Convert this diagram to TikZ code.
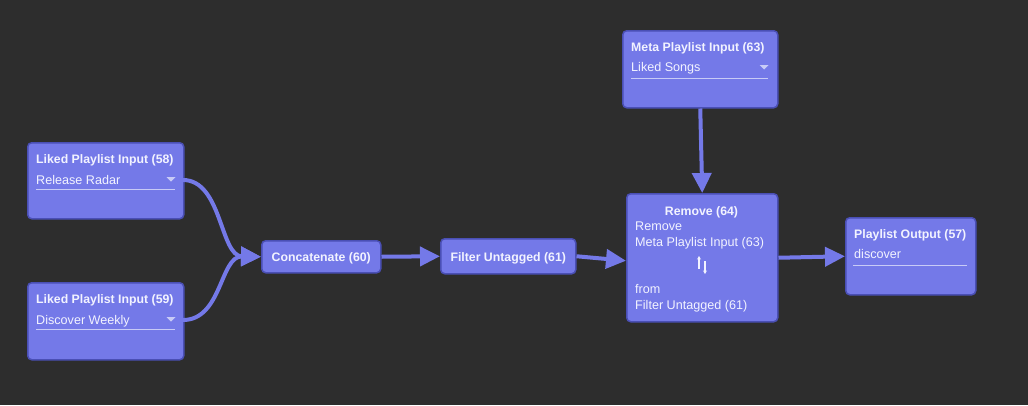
\documentclass[tikz,border=0pt]{standalone}
\usepackage{fontspec}
\setmainfont{Liberation Sans}
\usetikzlibrary{arrows.meta,calc}
\definecolor{bg}{HTML}{2D2D2D}
\definecolor{nodefill}{HTML}{7479E8}
\definecolor{nodeedge}{HTML}{4A4FB5}
\definecolor{wire}{HTML}{7479E8}
\definecolor{txt}{HTML}{F2F3FF}
\definecolor{rulec}{HTML}{C8CBF6}
\begin{document}
\begin{tikzpicture}[x=1pt,y=-1pt,
  box/.style={draw=nodeedge, line width=1.5pt, fill=nodefill, rounded corners=4pt, anchor=north west, inner sep=0pt},
  ttl/.style={text=txt, font=\fontsize{12.3}{14}\selectfont\bfseries, inner sep=0pt},
  body/.style={text=txt, font=\fontsize{12.6}{14}\selectfont, inner sep=0pt, anchor=base west},
  wirel/.style={draw=wire, line width=4pt, -{Triangle[length=20pt,width=19pt]}},
  sel/.style={draw=rulec, line width=0.8pt},
  tri/.style={fill=rulec, draw=none}
]
\fill[bg] (0,0) rectangle (1028,405);
\useasboundingbox (0,0) rectangle (1028,405);

% Liked Playlist Input (58)
\node[box, minimum width=156pt, minimum height=76pt] (l58) at (27,142) {};
\node[ttl, anchor=base west] (l58t) at (36,163) {Liked Playlist Input (58)};
\node[body] (l58v) at (36,184) {Release Radar};
\draw[sel] (36,189) -- (175,189);
\fill[tri] (166.5,177) -- (175.5,177) -- (171,181.5) -- cycle;

% Liked Playlist Input (59)
\node[box, minimum width=156pt, minimum height=77pt] (l59) at (27,282) {};
\node[ttl, anchor=base west] (l59t) at (36,303) {Liked Playlist Input (59)};
\node[body] (l59v) at (36,324) {Discover Weekly};
\draw[sel] (36,329) -- (175,329);
\fill[tri] (166.5,317) -- (175.5,317) -- (171,321.5) -- cycle;

% Concatenate
\node[box, minimum width=119pt, minimum height=32pt] (cat) at (261,240) {};
\node[ttl, anchor=base] (catt) at ($(cat.center)+(0,5)$) {Concatenate (60)};

% Filter Untagged
\node[box, minimum width=135pt, minimum height=35pt] (fil) at (440,238) {};
\node[ttl, anchor=base] (filt) at ($(fil.center)+(0,5)$) {Filter Untagged (61)};

% Meta Playlist Input (63)
\node[box, minimum width=155pt, minimum height=77pt] (meta) at (622,30) {};
\node[ttl, anchor=base west] (metat) at (631,51) {Meta Playlist Input (63)};
\node[body] (metav) at (631,71) {Liked Songs};
\draw[sel] (631,78) -- (768,78);
\fill[tri] (759.5,65) -- (768.5,65) -- (764,69.5) -- cycle;

% Remove (64)
\node[box, minimum width=151pt, minimum height=128pt] (rem) at (626,193) {};
\node[ttl, anchor=base] (remt) at (701.5,215) {Remove (64)};
\node[body] (rem1) at (635,230) {Remove};
\node[body] (rem2) at (635,246) {Meta Playlist Input (63)};
\node[body] (rem3) at (635,293) {from};
\node[body] (rem4) at (635,309) {Filter Untagged (61)};
\draw[txt, line width=1.2pt, -{Stealth[length=3.5pt,width=4pt]}] (699,269) -- (699,256);
\draw[txt, line width=1.2pt, -{Stealth[length=3.5pt,width=4pt]}] (705,261) -- (705,274);

% Playlist Output (57)
\node[box, minimum width=130pt, minimum height=77pt] (out) at (845,217) {};
\node[ttl, anchor=base west] (outt) at (854,238) {Playlist Output (57)};
\node[body] (outv) at (854,258) {discover};
\draw[sel] (853,265) -- (967,265);

% connectors
\coordinate (l58p) at (l58.east |- l58v);
\coordinate (l59p) at (l59.east |- l59v);
\coordinate (catin) at ($(cat.west)+(0,0)$);
\draw[wirel] (183,180) .. controls (222,180) and (220,256) .. (catin);
\draw[wirel] (183,320) .. controls (222,320) and (220,256) .. (catin);
\draw[wirel] (cat.east) -- (fil.west);
\draw[wirel] (fil.east) -- ($(rem.west)+(0,3)$);
\draw[wirel] (meta.south) -- (rem.north);
\draw[wirel] (rem.east) -- (out.west);
\end{tikzpicture}
\end{document}
